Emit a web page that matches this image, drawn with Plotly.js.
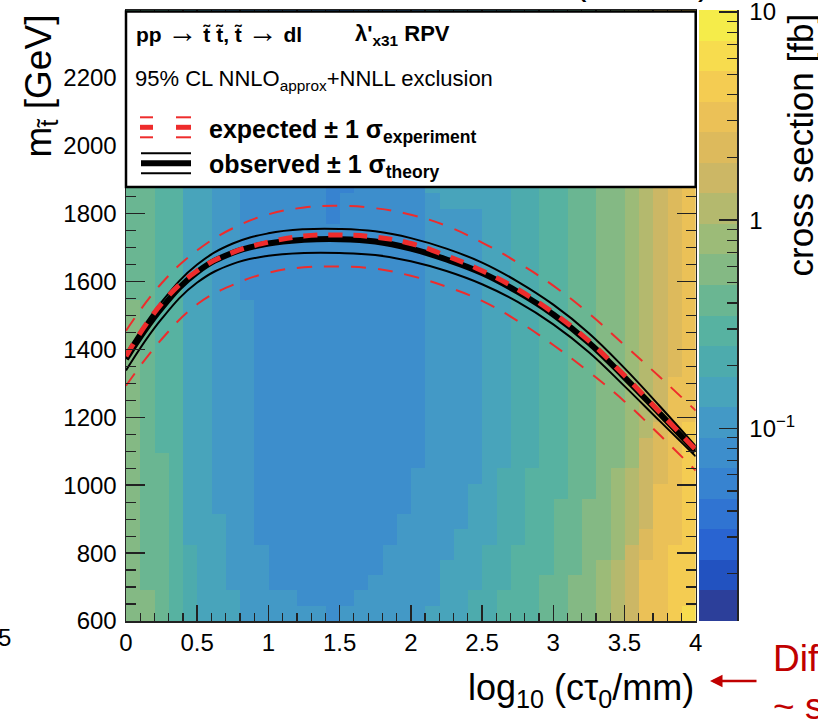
<!DOCTYPE html>
<html><head><meta charset="utf-8">
<script src="https://cdn.plot.ly/plotly-3.0.1.min.js"></script>
<style>html,body{margin:0;padding:0;background:#fff;overflow:hidden}</style>
</head><body><div id="chart" style="width:818px;height:722px"></div>
<script>
// ---------------- data ----------------
// heat-map bins: 40 x 40, log10(c tau0/mm) from 0 to 4 (0.1 wide), stop mass from 600 to 2400 GeV (45 GeV wide)
const xBinStart = 0.05, xBinWidth = 0.1;
const mBinStart = 622.5, mBinWidth = 45;
// colour level (0..19, base-36 digits) of every cell, one string per mass row, bottom row first
const bandRows = [
  "bba98777666666566666677788999aabbcdegghi",
  "bba98777666655556666667788999aabbcdegghh",
  "baa98776665555555666667778899aabbcdegghh",
  "baa9877666555555556666777889 99aabcdegghh".replace(' ',''),
  "baa98776665555555566666778899 9aabbcefghh".replace(' ',''),
  "baa9777665555555555666677788 99aabbcdfggh".replace(' ',''),
  "baa97776655555555556666677889 9aabbcdeggh".replace(' ',''),
  "baa97766655555555555666677889 9aabbcdeggh".replace(' ',''),
  "baa977666555555555556666778899 9aabcdeggh".replace(' ',''),
  "baa977666555555555556666678899 9aabcdefgh".replace(' ',''),
  "baa97766655555555555566667788 99aabbcefgh".replace(' ',''),
  "ba997766655555555555566667788 99aabbcefgh".replace(' ',''),
  "ba997766655555555555566667788 99aabbcdfgh".replace(' ',''),
  "ba997766655555555555566667788 99aabbcdegg".replace(' ',''),
  "ba997766655555555555566667788 99aabbcdegg".replace(' ',''),
  "ba997766655555555555566667788 99aabbcdegg".replace(' ',''),
  "ba997766655555555555566667788 99aabbcdefg".replace(' ',''),
  "ba997766655555555555566667788 99aabbcdefg".replace(' ',''),
  "ba997766655555555555566667788 99aabbcdefg".replace(' ',''),
  "ba997766655555555555566667788 99aabbcdefg".replace(' ',''),
  "ba997766655555555555566667788 99aabbcdefg".replace(' ',''),
  "aa997766555555555555566667788 99aabbcdefg".replace(' ',''),
  "aa997766555555555555566667788 99aabbcdefg".replace(' ',''),
  "aa997766555555555555566667788 99aabbcdefg".replace(' ',''),
  "aa997766555555555555566667788 99aabbcdefg".replace(' ',''),
  "aa997766555555555555566667788 99aabbcdefg".replace(' ',''),
  "aa997766555555455555566667788 99aabbcdefg".replace(' ',''),
  "aa997766555555455555567777788 99aabbcdefg".replace(' ',''),
  "aa997766555555445555577777788 99aabbcdefg".replace(' ',''),
  "aa997766555555445555577777788 99aabbcdefg".replace(' ',''),
  "aa997766555555445555577777788 99aabbcdefg".replace(' ',''),
  "aa997766555555445555577777788 99aabbcdefg".replace(' ',''),
  "aa997766555555445555577777788 99aabbcdefg".replace(' ',''),
  "aa997766555555445555577777788 99aabbcdefg".replace(' ',''),
  "aa997766555555445555577777788 99aabbcdefg".replace(' ',''),
  "aa997766555555445555577777788 99aabbcdefg".replace(' ',''),
  "aa997766555555445555577777788 99aabbcdefg".replace(' ',''),
  "aa997766555555445555577777788 99aabbcdefg".replace(' ',''),
  "aa997766555555445555577777788 99aabbcdefg".replace(' ',''),
  "aa997766555555445555577777788 99aabbcdefg".replace(' ','')
];
// colours of the 20 colour-bar levels, bottom (smallest cross section) to top
const levelColors = ["#2c3f9a","#2252c0","#2964d1","#3074d2","#3783d0","#3d8ecc","#4399c6","#48a4bb","#4dabad","#57b2a1",
                     "#6ab692","#84b984","#9cbb78","#b4b96e","#ccb765","#ddba5c","#ebc157","#f4cc52","#f7dc4e","#f5ec4a"];
const zLogMin = -1.926, zLogMax = 1.0096;          // colour-bar range, log10(fb)
const zTickVals = [-1, 0, 1];
const zTickText = ["10<sup>\u22121</sup>", "1", "10"];

// exclusion contours (GeV) sampled in log10(c tau0/mm)
const curveX       = [0, 0.25, 0.5, 0.75, 1, 1.25, 1.5, 1.75, 2, 2.25, 2.5, 2.75, 3, 3.25, 3.5, 3.75, 4];
const observed     = [1372, 1522, 1628, 1685, 1712, 1723, 1725, 1718, 1697, 1665, 1625, 1570, 1503, 1420, 1318, 1210, 1100];
const observedUp   = [1388, 1540, 1650, 1712, 1742, 1754, 1755, 1748, 1728, 1697, 1656, 1600, 1532, 1448, 1345, 1232, 1115];
const observedDown = [1338, 1490, 1597, 1652, 1676, 1684, 1684, 1678, 1660, 1631, 1592, 1540, 1474, 1392, 1292, 1188, 1085];
const expected     = [1380, 1535, 1632, 1686, 1716, 1734, 1737, 1731, 1712, 1676, 1632, 1577, 1508, 1425, 1323, 1214, 1105];
const expectedUp   = [1455, 1595, 1692, 1757, 1798, 1818, 1823, 1816, 1797, 1764, 1715, 1656, 1588, 1506, 1413, 1318, 1220];
const expectedDown = [1293, 1430, 1533, 1590, 1626, 1642, 1644, 1638, 1617, 1585, 1543, 1484, 1413, 1334, 1247, 1147, 1043];

const yTickVals = [600, 800, 1000, 1200, 1400, 1600, 1800, 2000, 2200];

// ---------------- drawing ----------------
const FONT = "Liberation Sans, Arial, Helvetica, sans-serif";
const nLev = levelColors.length;
const cs = [];
levelColors.forEach((c, k) => { cs.push([k / nLev, c]); cs.push([(k + 1) / nLev, c]); });
const zMain = bandRows.map(r => r.split('').map(ch => parseInt(ch, 36) + 0.5));
const step = (zLogMax - zLogMin) / nLev;

const RED = "#ee2c2c";
const SM = 1.2;
const traces = [
  {type:'heatmap', z:zMain, x0:xBinStart, dx:xBinWidth, y0:mBinStart, dy:mBinWidth,
   colorscale:cs, zmin:0, zmax:nLev, showscale:false, zsmooth:false, hoverinfo:'skip', xaxis:'x', yaxis:'y'},
  {type:'heatmap', z:levelColors.map((c,k)=>[k+0.5]), x0:0.5, dx:1, y0:zLogMin+step/2, dy:step,
   colorscale:cs, zmin:0, zmax:nLev, showscale:false, hoverinfo:'skip', xaxis:'x2', yaxis:'y2'},
  {type:'scatter', mode:'lines', x:curveX, y:expectedUp, line:{color:RED, width:2, dash:'15px,12px', shape:'spline', smoothing:SM}},
  {type:'scatter', mode:'lines', x:curveX, y:expectedDown, line:{color:RED, width:2, dash:'15px,12px', shape:'spline', smoothing:SM}},
  {type:'scatter', mode:'lines', x:curveX, y:observedUp, line:{color:'#000', width:2, shape:'spline', smoothing:SM}},
  {type:'scatter', mode:'lines', x:curveX, y:observedDown, line:{color:'#000', width:2, shape:'spline', smoothing:SM}},
  {type:'scatter', mode:'lines', x:curveX, y:observed, line:{color:'#000', width:6, shape:'spline', smoothing:SM}},
  {type:'scatter', mode:'lines', x:curveX, y:expected, line:{color:RED, width:5, dash:'14px,11px', shape:'spline', smoothing:SM}}
];

// pixel -> paper helpers (plot area: x 126..737, y 10..621)
const L = 126, T = 10, W = 611, H = 611;
const px = x => (x - L) / W;
const py = y => (T + H - y) / H;

const minorLog = [];
[0.01, 0.1, 1].forEach(d => { for (let k = 2; k <= 9; k++) minorLog.push(Math.log10(k * d)); });

const shapes = [
  {type:'rect', xref:'paper', yref:'paper', x0:px(126), x1:px(695.7), y0:py(187), y1:py(11.5),
   fillcolor:'#fff', line:{color:'#000', width:2.5}, layer:'above'},
  // legend symbols
  {type:'line', xref:'paper', yref:'paper', x0:px(140), x1:px(153), y0:py(117.3), y1:py(117.3), line:{color:RED, width:2}, layer:'above'},
  {type:'line', xref:'paper', yref:'paper', x0:px(176), x1:px(191), y0:py(117.3), y1:py(117.3), line:{color:RED, width:2}, layer:'above'},
  {type:'line', xref:'paper', yref:'paper', x0:px(140), x1:px(153), y0:py(127.3), y1:py(127.3), line:{color:RED, width:5}, layer:'above'},
  {type:'line', xref:'paper', yref:'paper', x0:px(176), x1:px(191), y0:py(127.3), y1:py(127.3), line:{color:RED, width:5}, layer:'above'},
  {type:'line', xref:'paper', yref:'paper', x0:px(140), x1:px(153), y0:py(137.3), y1:py(137.3), line:{color:RED, width:2}, layer:'above'},
  {type:'line', xref:'paper', yref:'paper', x0:px(176), x1:px(191), y0:py(137.3), y1:py(137.3), line:{color:RED, width:2}, layer:'above'},
  {type:'line', xref:'paper', yref:'paper', x0:px(141), x1:px(191), y0:py(153.3), y1:py(153.3), line:{color:'#000', width:2}, layer:'above'},
  {type:'line', xref:'paper', yref:'paper', x0:px(141), x1:px(191), y0:py(163.3), y1:py(163.3), line:{color:'#000', width:6}, layer:'above'},
  {type:'line', xref:'paper', yref:'paper', x0:px(141), x1:px(191), y0:py(173.3), y1:py(173.3), line:{color:'#000', width:2}, layer:'above'}
];

function ann(text, x, y, opts) {
  return Object.assign({xref:'paper', yref:'paper', x:px(x), y:py(y), text:text, showarrow:false,
    xanchor:'left', yanchor:'middle', font:{family:FONT, size:22, color:'#000'}}, opts || {});
}
const ARR = "<span style='font-size:30px;font-weight:normal'>\u2192</span>";
const annotations = [
  ann("<b>pp</b> " + ARR + " <b>t\u0303 t\u0303, t\u0303</b> " + ARR + " <b>dl</b>", 134, 32, {font:{family:FONT, size:21, color:'#000'}}),
  ann("<b>\u03bb'<sub>x31</sub> RPV</b>", 353, 35, {font:{family:FONT, size:22, color:'#000'}}),
  ann("95% CL NNLO<sub>approx</sub>+NNLL exclusion", 133, 80, {font:{family:FONT, size:22, color:'#000'}}),
  ann("<b>expected \u00b1 1 \u03c3<sub>experiment</sub></b>", 207, 131, {font:{family:FONT, size:25, color:'#000'}}),
  ann("<b>observed \u00b1 1 \u03c3<sub>theory</sub></b>", 207, 166, {font:{family:FONT, size:25, color:'#000'}}),
  // axis titles
  ann("log<sub>10</sub> (c\u03c4<sub>0</sub>/mm)", 696, 690, {xanchor:'right', font:{family:FONT, size:36, color:'#000'}}),
  ann("m<sub>t\u0303</sub> [GeV]", 40, 12, {textangle:-90, xanchor:'center', yanchor:'top', font:{family:FONT, size:37, color:'#000'}}),
  ann("cross section [fb]", 800, 12, {textangle:-90, xanchor:'center', yanchor:'top', font:{family:FONT, size:35, color:'#000'}}),
  // page fragments around the figure
  ann("5", 13, 637, {xanchor:'right', font:{family:FONT, size:24, color:'#000'}}),
  ann("Dif", 771, 659, {font:{family:FONT, size:37, color:'#c00000'}}),
  ann("~ s", 771, 706, {font:{family:FONT, size:37, color:'#c00000'}}),
  ann("CMS Preliminary", 430, -21, {xanchor:'right', font:{family:FONT, size:36, color:'#000'}}),
  ann("35.9 fb<sup>-1</sup> (13 TeV)", 712, -21, {xanchor:'right', font:{family:FONT, size:36, color:'#000'}}),
  {xref:'paper', yref:'paper', x:px(710), y:py(681), ax:48, ay:0, text:'', showarrow:true,
   arrowhead:2, arrowsize:1, arrowwidth:2.5, arrowcolor:'#c00000'}
];

const axLine = '#222';
const layout = {
  width:818, height:722,
  margin:{l:126, r:81, t:10, b:101, pad:0},
  paper_bgcolor:'#fff', plot_bgcolor:'#fff', showlegend:false,
  font:{family:FONT, size:24, color:'#000'},
  xaxis:{domain:[0, px(695.7)], range:[0,4], tick0:0, dtick:0.5, ticks:'inside', ticklen:16, tickwidth:1.5, tickcolor:axLine,
         showline:true, linecolor:axLine, linewidth:1.5, mirror:'ticks', showgrid:false, zeroline:false,
         tickfont:{family:FONT, size:24, color:'#000'}, ticklabelstandoff:0,
         minor:{dtick:0.1, tick0:0, ticks:'inside', ticklen:8, tickwidth:1.2, tickcolor:axLine, showgrid:false}},
  yaxis:{domain:[0,1], range:[600,2400], tickmode:'array', tickvals:yTickVals, ticks:'inside', ticklen:19, tickwidth:1.5, tickcolor:axLine,
         showline:true, linecolor:axLine, linewidth:1.5, mirror:'ticks', showgrid:false, zeroline:false,
         tickfont:{family:FONT, size:24, color:'#000'}, ticklabelstandoff:3,
         minor:{dtick:50, tick0:600, ticks:'inside', ticklen:10, tickwidth:1.2, tickcolor:axLine, showgrid:false}},
  xaxis2:{domain:[px(699), 1], range:[0,1], visible:false, anchor:'y2', fixedrange:true},
  yaxis2:{domain:[0,1], anchor:'x2', side:'right', range:[zLogMin, zLogMax], tickmode:'array', tickvals:zTickVals, ticktext:zTickText,
          ticks:'inside', ticklen:18, tickwidth:1.5, tickcolor:axLine, showline:true, linecolor:axLine, linewidth:1.5,
          showgrid:false, zeroline:false, tickfont:{family:FONT, size:24, color:'#000'}, ticklabelstandoff:6, ticklabeloverflow:'allow',
          minor:{tickmode:'array', tickvals:minorLog, ticks:'inside', ticklen:10, tickwidth:1.2, tickcolor:axLine, showgrid:false}},
  shapes:shapes, annotations:annotations
};
Plotly.newPlot('chart', traces, layout, {staticPlot:true, displayModeBar:false});
</script></body></html>
